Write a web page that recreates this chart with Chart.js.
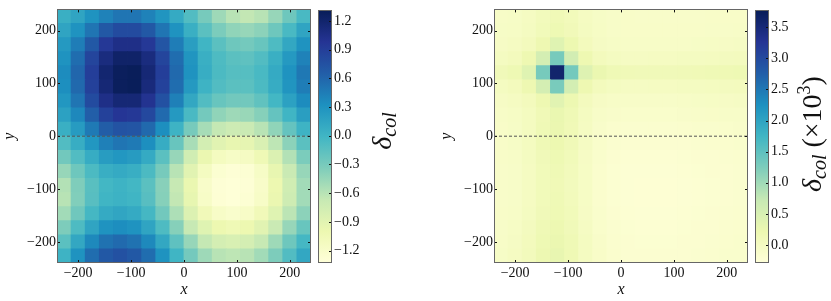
<!DOCTYPE html>
<html>
<head>
<meta charset="UTF-8">
<title>delta col maps</title>
<script src="https://cdn.jsdelivr.net/npm/chart.js@4.4.1/dist/chart.umd.min.js"></script>
<style>
  body { margin: 0; background: #fff; }
  #wrap { position: relative; width: 831px; height: 301px; }
  canvas { position: absolute; top: 0; }
</style>
</head>
<body>
<div id="wrap">
  <canvas id="mapL" width="313" height="301" style="left:0px"></canvas>
  <canvas id="barL" width="108" height="301" style="left:312px"></canvas>
  <canvas id="mapR" width="313" height="301" style="left:437px"></canvas>
  <canvas id="barR" width="82" height="301" style="left:749px"></canvas>
</div>
<script>
const FONT = "'Liberation Serif', 'Times New Roman', serif";

// axis ticks
const xTicks = [-200, -100, 0, 100, 200];
const yTicks = [-200, -100, 0, 100, 200];
const zeroLine = [-240, 240];

// grid cell centres (18 x 18 over -240..240)
const cellSize = 26.67;
const cellX = [-226.67, -200, -173.33, -146.67, -120, -93.33, -66.67, -40, -13.33, 13.33, 40, 66.67, 93.33, 120, 146.67, 173.33, 200, 226.67];
const cellY = [226.67, 200, 173.33, 146.67, 120, 93.33, 66.67, 40, 13.33, -13.33, -40, -66.67, -93.33, -120, -146.67, -173.33, -200, -226.67];

// left map, delta_col, rows top -> bottom
const deltaL = [
  [0.05, 0.15, 0.3, 0.42, 0.5, 0.5, 0.42, 0.28, 0.1, -0.1, -0.3, -0.48, -0.6, -0.65, -0.6, -0.45, -0.25, -0.05],
  [0.15, 0.3, 0.5, 0.7, 0.8, 0.8, 0.7, 0.5, 0.3, 0.05, -0.15, -0.32, -0.42, -0.45, -0.4, -0.25, -0.05, 0.15],
  [0.25, 0.45, 0.7, 0.95, 1.05, 1.05, 0.95, 0.72, 0.45, 0.2, 0.0, -0.15, -0.25, -0.28, -0.22, -0.08, 0.12, 0.3],
  [0.3, 0.55, 0.85, 1.1, 1.22, 1.22, 1.1, 0.85, 0.55, 0.28, 0.05, -0.08, -0.15, -0.17, -0.1, 0.05, 0.25, 0.42],
  [0.35, 0.6, 0.9, 1.18, 1.28, 1.3, 1.15, 0.9, 0.58, 0.3, 0.07, -0.07, -0.12, -0.12, -0.05, 0.1, 0.3, 0.48],
  [0.33, 0.58, 0.88, 1.15, 1.28, 1.3, 1.12, 0.87, 0.55, 0.25, 0.02, -0.1, -0.15, -0.15, -0.07, 0.08, 0.28, 0.45],
  [0.27, 0.5, 0.8, 1.05, 1.15, 1.15, 1.0, 0.75, 0.43, 0.12, -0.1, -0.22, -0.27, -0.27, -0.18, -0.02, 0.18, 0.35],
  [0.18, 0.38, 0.65, 0.88, 0.97, 0.95, 0.82, 0.57, 0.25, -0.06, -0.28, -0.42, -0.48, -0.46, -0.37, -0.2, 0.0, 0.2],
  [0.05, 0.23, 0.47, 0.66, 0.74, 0.72, 0.58, 0.33, 0.02, -0.3, -0.52, -0.66, -0.72, -0.7, -0.6, -0.42, -0.2, 0.02],
  [-0.1, 0.07, 0.27, 0.43, 0.5, 0.47, 0.33, 0.08, -0.22, -0.53, -0.77, -0.9, -0.96, -0.94, -0.83, -0.63, -0.4, -0.15],
  [-0.27, -0.1, 0.08, 0.22, 0.27, 0.23, 0.1, -0.15, -0.45, -0.75, -0.98, -1.12, -1.17, -1.15, -1.04, -0.84, -0.58, -0.32],
  [-0.45, -0.25, -0.07, 0.06, 0.1, 0.06, -0.07, -0.3, -0.6, -0.9, -1.13, -1.26, -1.3, -1.28, -1.17, -0.96, -0.7, -0.45],
  [-0.58, -0.34, -0.14, -0.02, 0.02, -0.02, -0.15, -0.38, -0.67, -0.97, -1.2, -1.3, -1.31, -1.3, -1.2, -1.0, -0.75, -0.5],
  [-0.6, -0.35, -0.13, 0.0, 0.03, 0.0, -0.13, -0.37, -0.65, -0.95, -1.18, -1.29, -1.31, -1.28, -1.18, -0.98, -0.73, -0.5],
  [-0.5, -0.26, -0.03, 0.1, 0.14, 0.1, -0.03, -0.27, -0.55, -0.85, -1.07, -1.18, -1.22, -1.18, -1.07, -0.88, -0.62, -0.4],
  [-0.33, -0.08, 0.15, 0.3, 0.34, 0.3, 0.15, -0.08, -0.37, -0.67, -0.88, -1.0, -1.04, -1.0, -0.9, -0.7, -0.45, -0.22],
  [-0.15, 0.12, 0.37, 0.52, 0.57, 0.52, 0.37, 0.12, -0.17, -0.45, -0.66, -0.78, -0.82, -0.78, -0.67, -0.48, -0.25, -0.03],
  [0.02, 0.3, 0.55, 0.7, 0.75, 0.7, 0.55, 0.3, 0.0, -0.28, -0.48, -0.6, -0.63, -0.6, -0.5, -0.33, -0.1, 0.12]
];

// right map, delta_col (x10^3), rows top -> bottom
const deltaR = [
  [-0.06, -0.05, 0.0, 0.08, 0.14, 0.09, 0.0, -0.05, -0.07, -0.08, -0.09, -0.09, -0.09, -0.09, -0.09, -0.08, -0.08, -0.08],
  [-0.05, -0.04, 0.02, 0.1, 0.18, 0.11, 0.02, -0.04, -0.07, -0.08, -0.08, -0.08, -0.08, -0.08, -0.08, -0.07, -0.07, -0.06],
  [-0.03, 0.0, 0.06, 0.2, 0.4, 0.22, 0.06, -0.02, -0.05, -0.06, -0.06, -0.06, -0.06, -0.06, -0.05, -0.04, -0.03, -0.02],
  [0.02, 0.06, 0.2, 0.55, 1.3, 0.58, 0.2, 0.06, 0.01, -0.01, -0.01, 0.0, 0.0, 0.01, 0.02, 0.03, 0.04, 0.05],
  [0.12, 0.18, 0.4, 1.3, 3.6, 1.32, 0.42, 0.24, 0.16, 0.13, 0.12, 0.12, 0.12, 0.13, 0.14, 0.15, 0.17, 0.18],
  [0.02, 0.06, 0.2, 0.55, 1.28, 0.57, 0.2, 0.06, 0.01, -0.01, -0.01, 0.0, 0.0, 0.01, 0.02, 0.03, 0.04, 0.05],
  [-0.03, 0.0, 0.06, 0.2, 0.38, 0.21, 0.05, -0.03, -0.06, -0.07, -0.07, -0.07, -0.07, -0.06, -0.05, -0.04, -0.03, -0.02],
  [-0.06, -0.04, 0.03, 0.14, 0.26, 0.15, 0.02, -0.07, -0.1, -0.11, -0.11, -0.11, -0.11, -0.1, -0.09, -0.08, -0.07, -0.07],
  [-0.08, -0.05, 0.03, 0.15, 0.24, 0.14, 0.0, -0.1, -0.14, -0.15, -0.15, -0.15, -0.15, -0.14, -0.13, -0.12, -0.11, -0.1],
  [-0.08, -0.05, 0.03, 0.15, 0.22, 0.13, -0.01, -0.11, -0.16, -0.18, -0.18, -0.18, -0.18, -0.17, -0.16, -0.15, -0.14, -0.13],
  [-0.08, -0.06, 0.01, 0.12, 0.18, 0.1, -0.03, -0.13, -0.18, -0.2, -0.2, -0.2, -0.2, -0.19, -0.18, -0.17, -0.16, -0.15],
  [-0.09, -0.07, 0.0, 0.1, 0.15, 0.08, -0.04, -0.14, -0.19, -0.21, -0.21, -0.21, -0.21, -0.2, -0.19, -0.18, -0.17, -0.16],
  [-0.09, -0.07, 0.0, 0.1, 0.14, 0.07, -0.04, -0.14, -0.19, -0.21, -0.22, -0.22, -0.22, -0.21, -0.2, -0.19, -0.17, -0.16],
  [-0.09, -0.07, 0.0, 0.1, 0.15, 0.08, -0.04, -0.14, -0.19, -0.21, -0.22, -0.22, -0.22, -0.21, -0.2, -0.19, -0.17, -0.16],
  [-0.08, -0.06, 0.02, 0.12, 0.17, 0.1, -0.03, -0.13, -0.18, -0.2, -0.21, -0.21, -0.21, -0.2, -0.19, -0.18, -0.16, -0.15],
  [-0.07, -0.04, 0.04, 0.15, 0.21, 0.12, -0.01, -0.11, -0.16, -0.19, -0.2, -0.2, -0.2, -0.19, -0.18, -0.17, -0.15, -0.14],
  [-0.06, -0.02, 0.06, 0.18, 0.25, 0.15, 0.01, -0.09, -0.15, -0.18, -0.19, -0.19, -0.19, -0.18, -0.17, -0.16, -0.14, -0.13],
  [-0.05, 0.0, 0.08, 0.21, 0.28, 0.17, 0.02, -0.08, -0.14, -0.17, -0.18, -0.18, -0.18, -0.17, -0.16, -0.15, -0.13, -0.12]
];

// colour bar ranges and ticks
const rangeL = [-1.33, 1.31];
const rangeR = [-0.29, 3.77];
const cbarTicksL = [-1.2, -0.9, -0.6, -0.3, 0, 0.3, 0.6, 0.9, 1.2];
const cbarTicksR = [0, 0.5, 1, 1.5, 2, 2.5, 3, 3.5];

const YlGnBu = ['#ffffd9', '#edf8b1', '#c7e9b4', '#7fcdbb', '#41b6c4', '#1d91c0', '#225ea8', '#253494', '#081d58'];

function hex(c) { return [1, 3, 5].map(i => parseInt(c.substr(i, 2), 16)); }
function cmap(t) {
  t = Math.max(0, Math.min(1, t));
  const p = t * 8, i = Math.min(7, Math.floor(p)), f = p - i;
  const a = hex(YlGnBu[i]), b = hex(YlGnBu[i + 1]);
  const c = a.map((v, k) => Math.round(v + (b[k] - v) * f));
  return `rgb(${c[0]},${c[1]},${c[2]})`;
}
function fmt(v, d) {
  const s = Math.abs(v).toFixed(d);
  return v < -1e-9 ? '\u2212' + s : s;
}

// frame + inward tick marks
const frame = {
  id: 'frame',
  afterDatasetsDraw(chart, args, opts) {
    const { ctx, chartArea: a } = chart;
    const tl = 3;
    ctx.save();
    ctx.lineWidth = 1;
    ctx.strokeStyle = '#111';
    ctx.beginPath();
    const ys = chart.scales.y;
    if (opts.sides === 'all') {
      const xs = chart.scales.x;
      xs.ticks.forEach(t => {
        const p = Math.round(xs.getPixelForValue(t.value)) + 0.5;
        ctx.moveTo(p, a.bottom); ctx.lineTo(p, a.bottom - tl);
        ctx.moveTo(p, a.top); ctx.lineTo(p, a.top + tl);
      });
      ys.ticks.forEach(t => {
        const p = Math.round(ys.getPixelForValue(t.value)) + 0.5;
        ctx.moveTo(a.left, p); ctx.lineTo(a.left + tl, p);
        ctx.moveTo(a.right, p); ctx.lineTo(a.right - tl, p);
      });
    } else {
      ys.ticks.forEach(t => {
        const p = Math.round(ys.getPixelForValue(t.value)) + 0.5;
        ctx.moveTo(a.right, p); ctx.lineTo(a.right - tl, p);
      });
    }
    ctx.stroke();
    ctx.strokeStyle = '#666';
    ctx.strokeRect(Math.round(a.left) + 0.5, Math.round(a.top) + 0.5, Math.round(a.width) - 1, Math.round(a.height) - 1);
    ctx.restore();
  }
};

// rotated colour bar label with sub/superscripts
function barTitle(parts, x, y) {
  return {
    id: 'barTitle',
    afterDraw(chart) {
      const ctx = chart.ctx;
      ctx.save();
      ctx.translate(x, y);
      ctx.rotate(-Math.PI / 2);
      ctx.fillStyle = '#111';
      ctx.textBaseline = 'alphabetic';
      const font = p => `${p.italic ? 'italic ' : ''}${p.size}px ${FONT}`;
      let total = 0;
      const ws = parts.map(p => { ctx.font = font(p); const w = ctx.measureText(p.text).width; total += w; return w; });
      let pos = -total / 2;
      parts.forEach((p, i) => {
        ctx.font = font(p);
        ctx.fillText(p.text, pos, p.dy || 0);
        pos += ws[i];
      });
      ctx.restore();
    }
  };
}

function cellPx(chart) {
  const sx = chart.scales.x, sy = chart.scales.y;
  const w = Math.abs(sx.getPixelForValue(cellSize) - sx.getPixelForValue(0));
  const h = Math.abs(sy.getPixelForValue(cellSize) - sy.getPixelForValue(0));
  return (Math.max(w, h) + 0.8) * Math.SQRT1_2;
}

function axis(kind, ticks, size) {
  return {
    type: 'linear', min: -240, max: 240,
    grid: { display: false, drawTicks: false },
    border: { display: false },
    afterBuildTicks: s => { s.ticks = ticks.map(v => ({ value: v })); },
    afterFit: s => { if (kind === 'x') s.height = size; else s.width = size; },
    ticks: {
      font: { family: FONT, size: 14 }, color: '#111',
      padding: kind === 'x' ? 2 : 1,
      callback: v => fmt(v, 0)
    },
    title: {
      display: true, text: kind, color: '#111',
      font: { family: FONT, size: 16, style: 'italic' },
      padding: kind === 'x' ? { top: 0, bottom: 2 } : { top: 0, bottom: 0 }
    }
  };
}

function heatmap(id, grid, range) {
  const pts = [], cols = [];
  grid.forEach((row, j) => row.forEach((v, i) => {
    pts.push({ x: cellX[i], y: cellY[j] });
    cols.push(cmap((v - range[0]) / (range[1] - range[0])));
  }));
  return new Chart(document.getElementById(id), {
    type: 'scatter',
    data: {
      datasets: [
        { data: zeroLine.map(x => ({ x: x, y: 0 })), showLine: true, borderColor: '#555',
          borderWidth: 1, borderDash: [3, 2], pointRadius: 0, clip: 0 },
        { data: pts, pointStyle: 'rect', pointBackgroundColor: cols, backgroundColor: cols,
          pointBorderWidth: 0, borderWidth: 0, clip: 0, pointRadius: c => cellPx(c.chart) }
      ]
    },
    options: {
      responsive: false, animation: false, events: [],
      layout: { padding: { top: 9, right: 2, left: 0, bottom: 0 } },
      plugins: { legend: { display: false }, tooltip: { enabled: false }, frame: { sides: 'all' } },
      scales: { x: axis('x', xTicks, 38), y: axis('y', yTicks, 57) }
    },
    plugins: [frame]
  });
}

function gradient(chart, range) {
  if (!chart.chartArea) return YlGnBu[0];
  const y = chart.scales.y;
  const g = chart.ctx.createLinearGradient(0, y.getPixelForValue(range[0]), 0, y.getPixelForValue(range[1]));
  YlGnBu.forEach((c, i) => g.addColorStop(i / 8, c));
  return g;
}

function colorbar(id, range, ticks, yWidth, title) {
  return new Chart(document.getElementById(id), {
    type: 'bar',
    data: {
      labels: [''],
      datasets: [{ data: [range], backgroundColor: c => gradient(c.chart, range), borderWidth: 0,
        barPercentage: 1, categoryPercentage: 1 }]
    },
    options: {
      responsive: false, animation: false, events: [],
      layout: { padding: { left: 6, top: 9, bottom: 38, right: 0 } },
      plugins: { legend: { display: false }, tooltip: { enabled: false }, frame: { sides: 'right' } },
      scales: {
        x: { display: false },
        y: {
          position: 'right', min: range[0], max: range[1],
          grid: { display: false, drawTicks: false },
          border: { display: false },
          afterBuildTicks: s => { s.ticks = ticks.map(v => ({ value: v })); },
          afterFit: s => { s.width = yWidth; },
          ticks: { font: { family: FONT, size: 14 }, color: '#111', padding: 2, callback: v => fmt(v, 1) }
        }
      }
    },
    plugins: [frame, title]
  });
}

heatmap('mapL', deltaL, rangeL);
heatmap('mapR', deltaR, rangeR);
colorbar('barL', rangeL, cbarTicksL, 88, barTitle([
  { text: 'δ', size: 28, italic: true },
  { text: 'col', size: 20, italic: true, dy: 5 }
], 79, 131));
colorbar('barR', rangeR, cbarTicksR, 62, barTitle([
  { text: 'δ', size: 28, italic: true },
  { text: 'col', size: 20, italic: true, dy: 5 },
  { text: ' (×10', size: 28 },
  { text: '3', size: 18, dy: -11 },
  { text: ')', size: 28 }
], 72, 134));
</script>
</body>
</html>
